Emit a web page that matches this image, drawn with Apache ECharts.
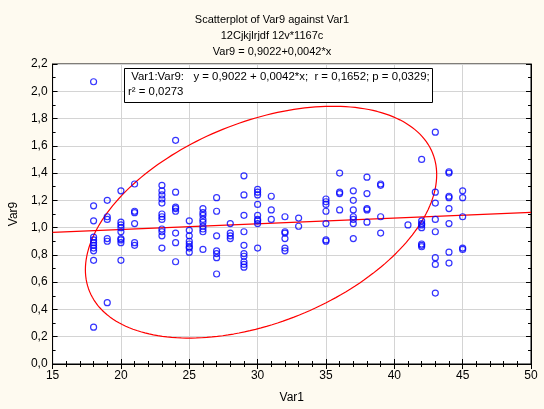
<!DOCTYPE html>
<html>
<head>
<meta charset="utf-8">
<script src="https://cdn.jsdelivr.net/npm/echarts@6/dist/echarts.min.js"></script>
<style>
  html, body { margin: 0; padding: 0; background: #fefaf0; }
  #chart { width: 544px; height: 409px; }
</style>
</head>
<body>
<div id="chart"></div>
<script>
// Var1 takes integer levels; Var9 values for each level
const var1Levels = [18, 19, 20, 21, 23, 24, 25, 26, 27, 28, 29, 30, 31, 32, 33, 35, 36, 37, 38, 39, 41, 42, 43, 44, 45];
const var9ByLevel = [
  [2.07, 1.16, 1.05, 0.93, 0.91, 0.89, 0.87, 0.85, 0.83, 0.76, 0.27],
  [1.20, 1.08, 1.06, 0.92, 0.90, 0.45],
  [1.27, 1.04, 1.02, 1.00, 0.97, 0.92, 0.91, 0.89, 0.76],
  [1.32, 1.12, 1.11, 1.03, 0.89, 0.87],
  [1.31, 1.27, 1.24, 1.21, 1.18, 1.10, 1.08, 1.06, 0.99, 0.97, 0.94, 0.85],
  [1.64, 1.26, 1.15, 1.14, 1.12, 0.96, 0.89, 0.75],
  [1.05, 0.98, 0.94, 0.90, 0.88, 0.86, 0.85, 0.82],
  [1.14, 1.11, 1.09, 1.06, 1.04, 1.01, 0.99, 0.97, 0.84],
  [1.22, 1.12, 0.94, 0.83, 0.81, 0.78, 0.66],
  [1.03, 0.96, 0.94, 0.92],
  [1.38, 1.24, 1.09, 0.97, 0.87, 0.81, 0.79, 0.75, 0.73, 0.71],
  [1.28, 1.26, 1.24, 1.17, 1.09, 1.06, 1.05, 1.03, 0.85],
  [1.23, 1.13, 1.06],
  [1.08, 0.97, 0.96, 0.92, 0.85, 0.83],
  [1.07, 1.01],
  [1.21, 1.19, 1.17, 1.12, 1.03, 0.91, 0.90],
  [1.40, 1.26, 1.25, 1.13],
  [1.27, 1.20, 1.13, 1.08, 1.06, 1.03, 0.92],
  [1.37, 1.25, 1.14, 1.13, 1.04],
  [1.32, 1.31, 1.08, 0.96],
  [1.02],
  [1.50, 1.05, 1.03, 1.02, 1.00, 0.88, 0.87, 0.86],
  [1.70, 1.26, 1.18, 1.06, 0.97, 0.78, 0.73, 0.52],
  [1.41, 1.40, 1.23, 1.22, 1.14, 1.03, 0.82, 0.74],
  [1.27, 1.22, 1.08, 0.85, 0.84],
];

// fit from the title: Var9 = 0,9022 + 0,0042*x
const intercept = 0.9022;
const slope = 0.0042;
const xRange = [15, 50];

// ellipse: centre, half extents, inner correlation
const ellipseCenter = [30.25, 1.04];
const ellipseHalf = [12.85, 0.85];
const ellipseRho = 0.41;

const xTicks = { min: 15, max: 50, interval: 5 };
const yTicks = { min: 0, max: 2.2, interval: 0.2 };

const titleLines = [
  "Scatterplot of Var9 against Var1",
  "12Cjkjlrjdf 12v*1167c",
  "Var9 = 0,9022+0,0042*x",
];
const statLines = [
  " Var1:Var9:   y = 0,9022 + 0,0042*x;  r = 0,1652; p = 0,0329;",
  "r\u00b2 = 0,0273",
];

const FONT = "'Liberation Sans', Arial, sans-serif";

const points = [];
var1Levels.forEach((x, i) => {
  var9ByLevel[i].forEach((y) => points.push([x, y]));
});

const fitLine = xRange.map((x) => [x, intercept + slope * x]);

const ellipse = [];
for (let k = 0; k <= 200; k++) {
  const t = (k / 200) * Math.PI * 2;
  ellipse.push([
    ellipseCenter[0] + ellipseHalf[0] * Math.cos(t),
    ellipseCenter[1] + ellipseHalf[1] * (ellipseRho * Math.cos(t) + Math.sqrt(1 - ellipseRho * ellipseRho) * Math.sin(t)),
  ]);
}

function commaFormat(v) {
  return v.toFixed(1).replace(".", ",");
}

const chart = echarts.init(document.getElementById("chart"), null, { renderer: "canvas" });

const tickCommon = {
  axisLine: { show: true, lineStyle: { color: "#000", width: 1 } },
  axisTick: { show: true, inside: true, length: 5, lineStyle: { color: "#000" } },
  minorTick: { show: true, length: 3, lineStyle: { color: "#000" } },
};

const option = {
  animation: false,
  backgroundColor: "#fefaf0",
  textStyle: { fontFamily: FONT },
  title: {
    text: titleLines.join("\n"),
    left: "center",
    top: 7,
    textStyle: { fontSize: 11, fontWeight: "normal", color: "#000", lineHeight: 16, fontFamily: FONT },
  },
  grid: {
    left: 48,
    right: 13,
    top: 64,
    bottom: 45,
    show: true,
    backgroundColor: "#ffffff",
    borderColor: "#000",
    borderWidth: 1,
  },
  xAxis: [
    {
      type: "value",
      min: xTicks.min,
      max: xTicks.max,
      interval: xTicks.interval,
      name: "Var1",
      nameLocation: "middle",
      nameGap: 28,
      nameTextStyle: { fontSize: 12, color: "#000", fontFamily: FONT },
      axisLabel: { color: "#000", fontSize: 12, margin: 6, fontFamily: FONT },
      splitLine: { show: true, lineStyle: { color: "#d4d4d4" } },
      ...tickCommon,
      minorTick: { ...tickCommon.minorTick, splitNumber: 5 },
    },
    {
      type: "value",
      position: "top",
      min: xTicks.min,
      max: xTicks.max,
      interval: xTicks.interval,
      axisLabel: { show: false },
      splitLine: { show: false },
      ...tickCommon,
      minorTick: { ...tickCommon.minorTick, splitNumber: 5 },
    },
  ],
  yAxis: [
    {
      type: "value",
      min: yTicks.min,
      max: yTicks.max,
      interval: yTicks.interval,
      name: "Var9",
      nameLocation: "middle",
      nameGap: 31,
      nameTextStyle: { fontSize: 12, color: "#000", fontFamily: FONT },
      axisLabel: { color: "#000", fontSize: 12, margin: 5, formatter: commaFormat, fontFamily: FONT },
      splitLine: { show: true, lineStyle: { color: "#d4d4d4" } },
      ...tickCommon,
      minorTick: { ...tickCommon.minorTick, splitNumber: 2 },
    },
    {
      type: "value",
      position: "right",
      min: yTicks.min,
      max: yTicks.max,
      interval: yTicks.interval,
      axisLabel: { show: false },
      splitLine: { show: false },
      ...tickCommon,
      minorTick: { ...tickCommon.minorTick, splitNumber: 2 },
    },
  ],
  graphic: [
    {
      type: "rect",
      x: 124.5,
      y: 68.5,
      z: 100,
      shape: { x: 0, y: 0, width: 308, height: 34 },
      style: { fill: "#ffffff", stroke: "#000000", lineWidth: 1 },
    },
    {
      type: "text",
      x: 128,
      y: 69,
      z: 101,
      style: {
        text: statLines.join("\n"),
        font: "11.4px " + FONT,
        fill: "#000",
        lineHeight: 15.5,
        verticalAlign: "top",
      },
    },
  ],
  series: [
    {
      type: "line",
      data: ellipse,
      showSymbol: false,
      symbol: "none",
      lineStyle: { color: "#ff0000", width: 1.2 },
      z: 3,
    },
    {
      type: "line",
      data: fitLine,
      showSymbol: false,
      symbol: "none",
      lineStyle: { color: "#ff0000", width: 1.2 },
      z: 3,
    },
    {
      type: "scatter",
      data: points,
      symbol: "circle",
      symbolSize: 6,
      itemStyle: { color: "transparent", borderColor: "#0000ff", borderWidth: 1.2 },
      z: 4,
    },
  ],
};

chart.setOption(option);
</script>
</body>
</html>
